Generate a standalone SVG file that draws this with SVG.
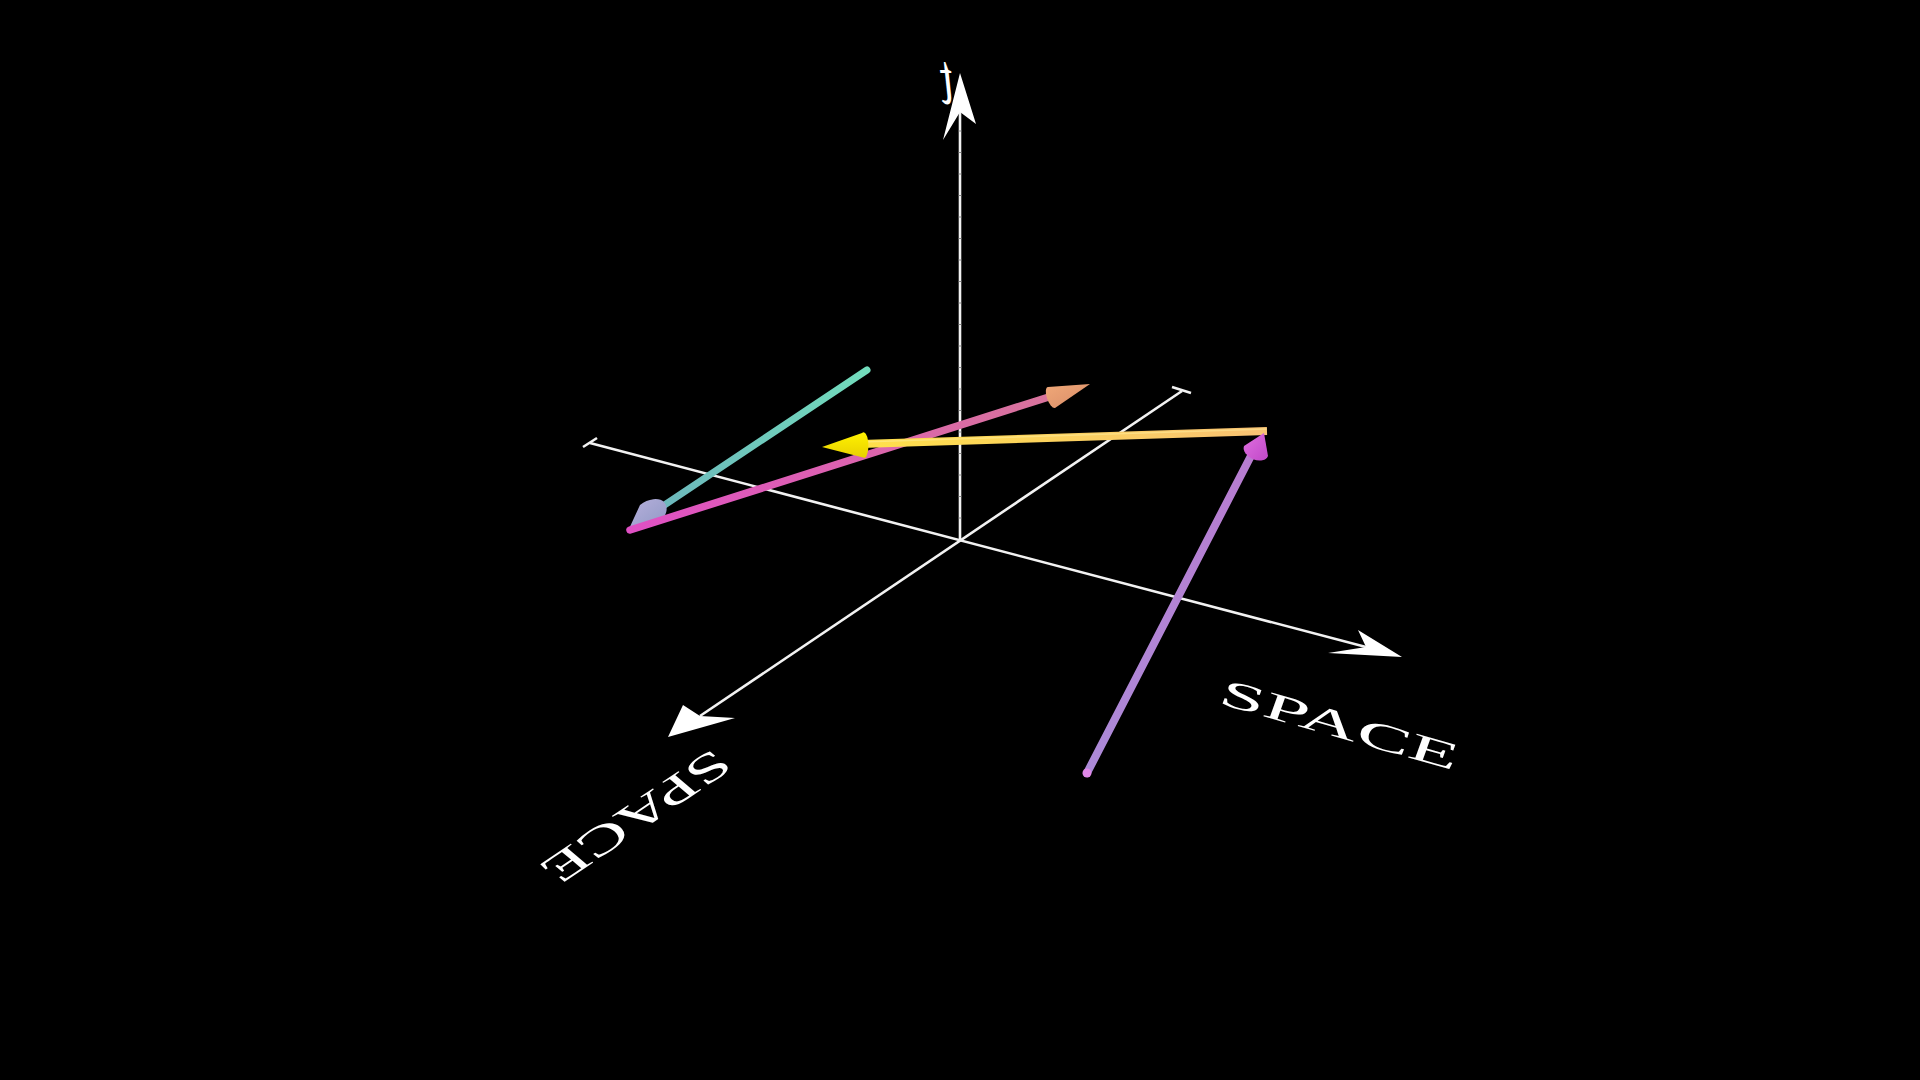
<svg xmlns="http://www.w3.org/2000/svg" width="1920" height="1080" viewBox="0 0 1920 1080">
<defs>
<style>
.axis{stroke:#f2f2f2;stroke-width:2.6;fill:none;stroke-linecap:butt}
.head{fill:#ffffff;stroke:none}
.lbl{font-family:"Liberation Serif","Times New Roman",serif;fill:#ffffff}
.vec{fill:none;stroke-linecap:round}
</style>
<linearGradient id="gTeal" gradientUnits="userSpaceOnUse" x1="867" y1="370" x2="640" y2="522">
<stop offset="0" stop-color="#72dcbc"/><stop offset="1" stop-color="#6cb4bc"/>
</linearGradient>
<linearGradient id="gPink" gradientUnits="userSpaceOnUse" x1="630" y1="530" x2="1052" y2="395">
<stop offset="0" stop-color="#e050c4"/><stop offset="1" stop-color="#d8749c"/>
</linearGradient>
<linearGradient id="gYel" gradientUnits="userSpaceOnUse" x1="860" y1="444" x2="1267" y2="431">
<stop offset="0" stop-color="#ffe04a"/><stop offset="1" stop-color="#f8c274"/>
</linearGradient>
<linearGradient id="gPur" gradientUnits="userSpaceOnUse" x1="1087" y1="773" x2="1255" y2="447">
<stop offset="0" stop-color="#ac8ad8"/><stop offset="1" stop-color="#b87cd0"/>
</linearGradient>
<linearGradient id="gConeL" x1="0" y1="0" x2="1" y2="1">
<stop offset="0" stop-color="#b8b0dc"/><stop offset="1" stop-color="#8e98c4"/>
</linearGradient>
<linearGradient id="gConeO" x1="0" y1="0" x2="1" y2="1">
<stop offset="0" stop-color="#f0a878"/><stop offset="1" stop-color="#d88c68"/>
</linearGradient>
<linearGradient id="gConeY" x1="0" y1="0" x2="0" y2="1">
<stop offset="0" stop-color="#fff200"/><stop offset="1" stop-color="#e8d000"/>
</linearGradient>
<linearGradient id="gConeM" x1="0" y1="0" x2="1" y2="1">
<stop offset="0" stop-color="#e070e0"/><stop offset="1" stop-color="#c048c8"/>
</linearGradient>
</defs>
<rect x="0" y="0" width="1920" height="1080" fill="#000000"/>

<g id="axes">
<g id="axis-t">
<line class="axis" x1="960" y1="540" x2="960" y2="112"/>
<line x1="960" y1="540" x2="960" y2="112" stroke="#8c8c8c" stroke-width="2.6" stroke-dasharray="1 20.5"/>
<polygon class="head" points="960,73 976,124 960,112 943,140"/>
</g>
<g id="axis-x">
<line class="axis" x1="590" y1="443" x2="1366" y2="647"/>
<line class="axis" x1="583" y1="447" x2="597" y2="438"/>
<polygon class="head" points="1402,657 1358,630 1366,647 1328,653"/>
</g>
<g id="axis-y">
<line class="axis" x1="1182" y1="391" x2="700" y2="716"/>
<line class="axis" x1="1172" y1="387" x2="1191" y2="393"/>
<polygon class="head" points="668,737 735,718 700,716 683,705"/>
</g>
</g>

<g id="labels">
<text class="lbl" font-size="74" font-style="italic" text-anchor="middle" transform="translate(947,104) scale(-0.6,1)">t</text>
<text class="lbl" font-size="36" transform="matrix(2.18,0.62,-0.36,1.0,1217,703)">SPACE</text>
<text class="lbl" font-size="36" transform="matrix(-1.62,1.09,-0.95,-0.8,713,748)">SPACE</text>
</g>

<g id="vectors">
<g id="vec-teal">
<line class="vec" x1="867" y1="370" x2="642" y2="520" stroke="url(#gTeal)" stroke-width="7"/>
<path d="M628,531 L640,505 A12,8 -35 0 1 658,524 Z" fill="url(#gConeL)"/>
</g>
<g id="vec-pink">
<line class="vec" x1="630" y1="530" x2="1052" y2="396" stroke="url(#gPink)" stroke-width="7.5"/>
<path d="M1090,384 L1048,387 A4.5,11 -20 0 0 1055,408 Z" fill="url(#gConeO)"/>
</g>
<g id="vec-yellow">
<line x1="861" y1="444" x2="1267" y2="431" stroke="url(#gYel)" stroke-width="8"/>
<line x1="861" y1="442" x2="1267" y2="429" stroke="#fff0a0" stroke-width="1.4" opacity="0.5"/>
<path d="M822,447 L862,433 A4.5,12 0 0 1 865,458 Z" fill="url(#gConeY)"/>
</g>
<g id="vec-purple">
<line class="vec" x1="1087" y1="773" x2="1254" y2="450" stroke="url(#gPur)" stroke-width="8"/>
<circle cx="1087" cy="773" r="4.5" fill="#e088e8"/>
<path d="M1264,433 L1268,456 A12,8 25 0 1 1244,446 Z" fill="url(#gConeM)"/>
</g>
</g>
</svg>
